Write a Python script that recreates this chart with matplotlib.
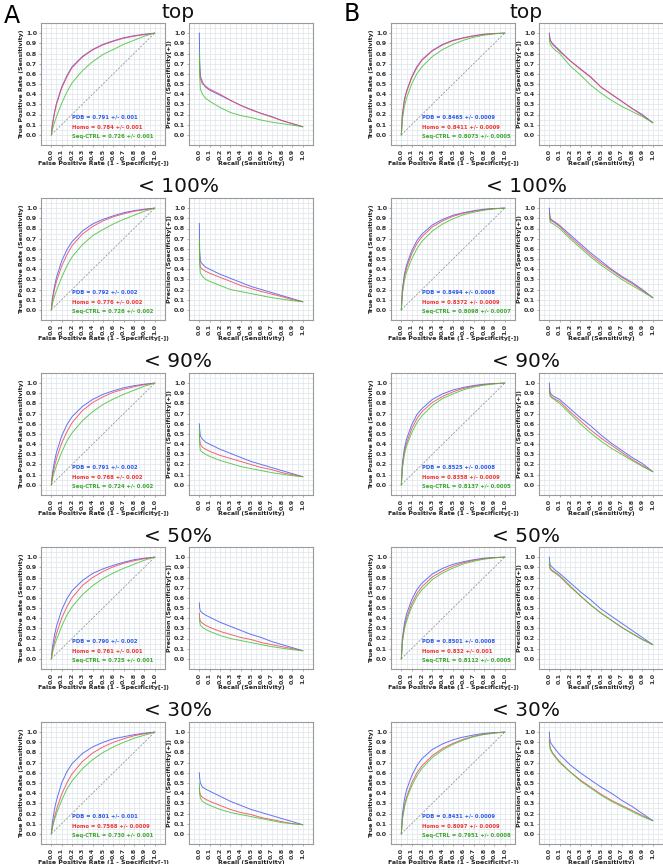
import matplotlib
matplotlib.use("Agg")
import matplotlib.pyplot as plt
from matplotlib.ticker import MultipleLocator

# subsets (one row each)
subsets = ["top", "< 100%", "< 90%", "< 50%", "< 30%"]
series = ["PDB", "Homo", "Seq-CTRL"]

# shared x points (FPR for ROC, recall for PR)
fpr_pts = [0, 0.01, 0.03, 0.05, 0.1, 0.15, 0.2, 0.3, 0.4, 0.5, 0.6, 0.7, 0.8, 0.9, 1.0]
rec_pts = [0, 0.003, 0.01, 0.03, 0.06, 0.1, 0.2, 0.3, 0.4, 0.5, 0.6, 0.7, 0.8, 0.9, 1.0]

# ---- panel A: ROC (TPR) ----
roc_a_pdb = [
    [0, 0.10, 0.22, 0.31, 0.47, 0.58, 0.67, 0.77, 0.84, 0.89, 0.925, 0.955, 0.975, 0.99, 1],
    [0, 0.11, 0.23, 0.32, 0.48, 0.59, 0.67, 0.775, 0.845, 0.89, 0.925, 0.955, 0.975, 0.99, 1],
    [0, 0.11, 0.23, 0.32, 0.48, 0.59, 0.67, 0.77, 0.84, 0.89, 0.925, 0.955, 0.975, 0.99, 1],
    [0, 0.11, 0.23, 0.32, 0.48, 0.59, 0.67, 0.77, 0.84, 0.885, 0.92, 0.95, 0.975, 0.99, 1],
    [0, 0.11, 0.24, 0.33, 0.50, 0.61, 0.69, 0.79, 0.855, 0.90, 0.935, 0.955, 0.975, 0.99, 1],
]
roc_a_homo = [
    [0, 0.09, 0.21, 0.30, 0.46, 0.57, 0.66, 0.765, 0.835, 0.885, 0.92, 0.95, 0.97, 0.985, 1],
    [0, 0.09, 0.20, 0.28, 0.43, 0.54, 0.63, 0.745, 0.82, 0.875, 0.915, 0.945, 0.97, 0.985, 1],
    [0, 0.08, 0.18, 0.26, 0.41, 0.52, 0.61, 0.73, 0.81, 0.865, 0.91, 0.94, 0.965, 0.985, 1],
    [0, 0.08, 0.17, 0.25, 0.40, 0.51, 0.60, 0.72, 0.80, 0.86, 0.905, 0.94, 0.965, 0.985, 1],
    [0, 0.07, 0.16, 0.24, 0.39, 0.50, 0.59, 0.71, 0.795, 0.855, 0.90, 0.935, 0.965, 0.985, 1],
]
roc_a_seq = [
    [0, 0.05, 0.12, 0.18, 0.31, 0.42, 0.51, 0.63, 0.72, 0.79, 0.84, 0.89, 0.93, 0.97, 1],
    [0, 0.06, 0.13, 0.19, 0.32, 0.43, 0.52, 0.64, 0.73, 0.79, 0.845, 0.89, 0.93, 0.97, 1],
    [0, 0.06, 0.13, 0.19, 0.32, 0.43, 0.51, 0.63, 0.72, 0.79, 0.845, 0.89, 0.93, 0.97, 1],
    [0, 0.06, 0.13, 0.19, 0.32, 0.43, 0.51, 0.63, 0.72, 0.79, 0.845, 0.89, 0.93, 0.97, 1],
    [0, 0.06, 0.14, 0.20, 0.33, 0.44, 0.52, 0.64, 0.73, 0.80, 0.855, 0.90, 0.94, 0.97, 1],
]

# ---- panel A: PR (precision) ----
pr_a_pdb = [
    [1.0, 0.75, 0.58, 0.52, 0.47, 0.44, 0.39, 0.34, 0.29, 0.25, 0.21, 0.18, 0.14, 0.11, 0.08],
    [0.85, 0.60, 0.48, 0.45, 0.42, 0.40, 0.35, 0.31, 0.27, 0.23, 0.20, 0.17, 0.14, 0.11, 0.08],
    [0.60, 0.55, 0.48, 0.45, 0.42, 0.40, 0.35, 0.31, 0.27, 0.23, 0.20, 0.17, 0.14, 0.11, 0.08],
    [0.55, 0.50, 0.47, 0.45, 0.43, 0.41, 0.36, 0.32, 0.28, 0.24, 0.21, 0.17, 0.14, 0.11, 0.08],
    [0.60, 0.55, 0.50, 0.46, 0.44, 0.42, 0.37, 0.32, 0.28, 0.24, 0.21, 0.18, 0.15, 0.12, 0.09],
]
pr_a_homo = [
    [0.72, 0.65, 0.55, 0.50, 0.48, 0.45, 0.40, 0.34, 0.29, 0.245, 0.21, 0.175, 0.14, 0.11, 0.08],
    [0.65, 0.50, 0.42, 0.40, 0.38, 0.36, 0.32, 0.28, 0.24, 0.21, 0.18, 0.155, 0.13, 0.10, 0.08],
    [0.50, 0.45, 0.40, 0.37, 0.35, 0.33, 0.29, 0.26, 0.23, 0.20, 0.17, 0.15, 0.12, 0.10, 0.08],
    [0.45, 0.40, 0.37, 0.35, 0.33, 0.31, 0.27, 0.24, 0.21, 0.19, 0.16, 0.14, 0.12, 0.10, 0.08],
    [0.45, 0.42, 0.38, 0.36, 0.34, 0.32, 0.28, 0.24, 0.21, 0.19, 0.16, 0.14, 0.12, 0.10, 0.09],
]
pr_a_seq = [
    [0.80, 0.60, 0.45, 0.40, 0.36, 0.33, 0.27, 0.22, 0.19, 0.17, 0.145, 0.125, 0.11, 0.095, 0.08],
    [0.70, 0.45, 0.36, 0.33, 0.30, 0.28, 0.24, 0.20, 0.18, 0.16, 0.14, 0.12, 0.105, 0.09, 0.08],
    [0.55, 0.40, 0.34, 0.32, 0.30, 0.28, 0.24, 0.21, 0.18, 0.16, 0.14, 0.12, 0.105, 0.09, 0.08],
    [0.40, 0.37, 0.33, 0.31, 0.29, 0.27, 0.23, 0.20, 0.18, 0.16, 0.14, 0.12, 0.105, 0.09, 0.08],
    [0.50, 0.40, 0.35, 0.32, 0.30, 0.28, 0.24, 0.21, 0.19, 0.17, 0.15, 0.13, 0.11, 0.10, 0.09],
]

# ---- panel B: ROC ----
roc_b_pdb = [
    [0, 0.20, 0.35, 0.43, 0.57, 0.67, 0.74, 0.83, 0.89, 0.93, 0.955, 0.975, 0.99, 0.997, 1],
    [0, 0.20, 0.35, 0.44, 0.58, 0.68, 0.745, 0.835, 0.89, 0.93, 0.955, 0.975, 0.99, 0.997, 1],
    [0, 0.21, 0.36, 0.45, 0.59, 0.69, 0.75, 0.84, 0.895, 0.933, 0.958, 0.977, 0.99, 0.997, 1],
    [0, 0.20, 0.35, 0.44, 0.58, 0.68, 0.745, 0.835, 0.89, 0.93, 0.955, 0.975, 0.99, 0.997, 1],
    [0, 0.19, 0.34, 0.43, 0.57, 0.67, 0.74, 0.83, 0.885, 0.925, 0.952, 0.972, 0.988, 0.996, 1],
]
roc_b_homo = [
    [0, 0.19, 0.34, 0.42, 0.56, 0.66, 0.735, 0.825, 0.885, 0.925, 0.952, 0.972, 0.988, 0.996, 1],
    [0, 0.18, 0.33, 0.41, 0.55, 0.65, 0.72, 0.815, 0.875, 0.92, 0.95, 0.97, 0.985, 0.995, 1],
    [0, 0.18, 0.33, 0.41, 0.55, 0.65, 0.72, 0.81, 0.87, 0.915, 0.948, 0.97, 0.985, 0.995, 1],
    [0, 0.18, 0.32, 0.40, 0.54, 0.64, 0.71, 0.805, 0.865, 0.912, 0.945, 0.968, 0.985, 0.995, 1],
    [0, 0.15, 0.28, 0.36, 0.50, 0.60, 0.67, 0.77, 0.84, 0.89, 0.93, 0.96, 0.98, 0.993, 1],
]
roc_b_seq = [
    [0, 0.15, 0.28, 0.36, 0.50, 0.60, 0.67, 0.77, 0.84, 0.89, 0.93, 0.96, 0.98, 0.993, 1],
    [0, 0.15, 0.29, 0.37, 0.50, 0.60, 0.675, 0.775, 0.845, 0.895, 0.935, 0.96, 0.98, 0.993, 1],
    [0, 0.16, 0.30, 0.38, 0.51, 0.61, 0.68, 0.78, 0.85, 0.895, 0.935, 0.962, 0.98, 0.993, 1],
    [0, 0.16, 0.29, 0.37, 0.51, 0.61, 0.68, 0.78, 0.845, 0.893, 0.933, 0.96, 0.98, 0.993, 1],
    [0, 0.14, 0.26, 0.34, 0.47, 0.57, 0.645, 0.75, 0.825, 0.88, 0.922, 0.955, 0.977, 0.99, 1],
]

# ---- panel B: PR ----
pr_b_pdb = [
    [1.0, 0.97, 0.93, 0.90, 0.87, 0.83, 0.73, 0.65, 0.57, 0.47, 0.40, 0.33, 0.26, 0.20, 0.12],
    [1.0, 0.95, 0.90, 0.88, 0.86, 0.83, 0.74, 0.65, 0.56, 0.48, 0.40, 0.33, 0.27, 0.20, 0.12],
    [1.0, 0.95, 0.90, 0.88, 0.86, 0.84, 0.75, 0.66, 0.58, 0.49, 0.41, 0.34, 0.27, 0.21, 0.13],
    [1.0, 0.96, 0.92, 0.90, 0.87, 0.84, 0.75, 0.66, 0.58, 0.49, 0.42, 0.35, 0.28, 0.21, 0.14],
    [1.0, 0.95, 0.90, 0.87, 0.83, 0.78, 0.68, 0.60, 0.53, 0.46, 0.40, 0.33, 0.27, 0.20, 0.13],
]
pr_b_homo = [
    [0.98, 0.95, 0.92, 0.89, 0.86, 0.82, 0.73, 0.645, 0.565, 0.47, 0.40, 0.33, 0.26, 0.19, 0.12],
    [0.95, 0.92, 0.88, 0.87, 0.85, 0.82, 0.72, 0.63, 0.54, 0.46, 0.39, 0.32, 0.26, 0.19, 0.12],
    [0.95, 0.91, 0.88, 0.86, 0.84, 0.82, 0.72, 0.63, 0.54, 0.46, 0.39, 0.32, 0.25, 0.19, 0.13],
    [0.93, 0.90, 0.88, 0.86, 0.84, 0.81, 0.71, 0.62, 0.53, 0.45, 0.38, 0.31, 0.25, 0.19, 0.14],
    [0.93, 0.88, 0.84, 0.80, 0.76, 0.71, 0.61, 0.53, 0.46, 0.39, 0.33, 0.28, 0.23, 0.18, 0.13],
]
pr_b_seq = [
    [0.95, 0.92, 0.89, 0.86, 0.83, 0.80, 0.68, 0.59, 0.49, 0.41, 0.34, 0.28, 0.23, 0.18, 0.12],
    [0.92, 0.90, 0.86, 0.85, 0.83, 0.80, 0.70, 0.61, 0.52, 0.44, 0.37, 0.30, 0.24, 0.18, 0.12],
    [0.92, 0.90, 0.87, 0.85, 0.83, 0.80, 0.70, 0.60, 0.51, 0.43, 0.36, 0.30, 0.24, 0.18, 0.13],
    [0.95, 0.92, 0.89, 0.87, 0.85, 0.82, 0.72, 0.62, 0.53, 0.45, 0.38, 0.31, 0.25, 0.19, 0.14],
    [0.90, 0.87, 0.83, 0.79, 0.75, 0.70, 0.61, 0.52, 0.45, 0.38, 0.32, 0.27, 0.22, 0.17, 0.13],
]

# AUC labels
auc_a_pdb = ["0.791 +/- 0.001", "0.792 +/- 0.002", "0.791 +/- 0.002", "0.790 +/- 0.002", "0.801 +/- 0.001"]
auc_a_homo = ["0.784 +/- 0.001", "0.776 +/- 0.002", "0.768 +/- 0.002", "0.761 +/- 0.001", "0.7568 +/- 0.0009"]
auc_a_seq = ["0.726 +/- 0.001", "0.726 +/- 0.002", "0.724 +/- 0.002", "0.725 +/- 0.001", "0.730 +/- 0.001"]
auc_b_pdb = ["0.8465 +/- 0.0009", "0.8494 +/- 0.0008", "0.8525 +/- 0.0008", "0.8501 +/- 0.0008", "0.8431 +/- 0.0009"]
auc_b_homo = ["0.8411 +/- 0.0009", "0.8372 +/- 0.0009", "0.8358 +/- 0.0009", "0.832 +/- 0.001", "0.8097 +/- 0.0009"]
auc_b_seq = ["0.8073 +/- 0.0005", "0.8098 +/- 0.0007", "0.8137 +/- 0.0005", "0.8112 +/- 0.0005", "0.7951 +/- 0.0008"]

line_colors = ["#4a5cf0", "#f04a5a", "#4cc23a"]
text_colors = ["#2b57e8", "#ee3333", "#3aa82a"]

W, H = 663, 864
fig = plt.figure(figsize=(W / 100, H / 100), dpi=100)


def px_axes(x, y, w, h):
    # pixel box (top-left origin) -> figure fractions
    return fig.add_axes([x / W, 1 - (y + h) / H, w / W, h / H])


def style_axes(ax, xlabel, ylabel):
    ax.set_xlim(-0.1, 1.1)
    ax.set_ylim(-0.1, 1.1)
    ax.set_xticks([i / 10 for i in range(11)])
    ax.set_yticks([i / 10 for i in range(11)])
    ax.xaxis.set_minor_locator(MultipleLocator(0.05))
    ax.yaxis.set_minor_locator(MultipleLocator(0.05))
    ax.grid(True, which="both", color="#dde5ec", lw=0.5)
    ax.set_axisbelow(True)
    ax.tick_params(axis="both", which="major", labelsize=4.6, length=1.5, width=0.5,
                   color="#888888", pad=1.2, labelcolor="#333333")
    ax.tick_params(axis="both", which="minor", length=0)
    ax.tick_params(axis="x", labelrotation=90)
    for lab in ax.get_xticklabels() + ax.get_yticklabels():
        lab.set_fontweight("bold")
    for sp in ax.spines.values():
        sp.set_color("#9a9a9a")
        sp.set_linewidth(0.8)
    ax.set_xlabel(xlabel, fontsize=4.5, fontweight="bold", labelpad=1.0, color="#222222")
    ax.set_ylabel(ylabel, fontsize=4.5, fontweight="bold", labelpad=1.5, color="#222222")


panels = [
    ("A", 41, 189, (roc_a_pdb, roc_a_homo, roc_a_seq), (pr_a_pdb, pr_a_homo, pr_a_seq),
     (auc_a_pdb, auc_a_homo, auc_a_seq), 178),
    ("B", 391, 539, (roc_b_pdb, roc_b_homo, roc_b_seq), (pr_b_pdb, pr_b_homo, pr_b_seq),
     (auc_b_pdb, auc_b_homo, auc_b_seq), 526),
]
row_tops = [23, 198, 373, 547, 722]
ax_w, ax_h = 124, 122

for letter, roc_x, pr_x, roc_sets, pr_sets, auc_sets, title_x in panels:
    for r, top in enumerate(row_tops):
        ax1 = px_axes(roc_x, top, ax_w, ax_h)
        ax1.plot([0, 1], [0, 1], ls="--", color="#888888", lw=0.5, dashes=(3, 2))
        for k in range(3):
            ax1.plot(fpr_pts, roc_sets[k][r], color=line_colors[k], lw=0.7, alpha=0.85)
        for k in range(3):
            ax1.text(0.2, 0.18 - 0.1 * k, f"{series[k]} = {auc_sets[k][r]}",
                     color=text_colors[k], fontsize=3.8, fontweight="bold", va="center")
        style_axes(ax1, "False Positive Rate (1 - Specificity[-])", "True Positive Rate (Sensitivity)")

        ax2 = px_axes(pr_x, top, ax_w, ax_h)
        for k in range(3):
            ax2.plot(rec_pts, pr_sets[k][r], color=line_colors[k], lw=0.7, alpha=0.85)
        style_axes(ax2, "Recall (Sensitivity)", "Precision (Specificity[+])")

        fig.text(title_x / W, 1 - (top - 11) / H, subsets[r], fontsize=14.5,
                 ha="center", va="center", color="#111111")

fig.text(12 / W, 1 - 16 / H, "A", fontsize=17, ha="center", va="center")
fig.text(352 / W, 1 - 14 / H, "B", fontsize=17, ha="center", va="center")

fig.savefig("out.png", dpi=100)
